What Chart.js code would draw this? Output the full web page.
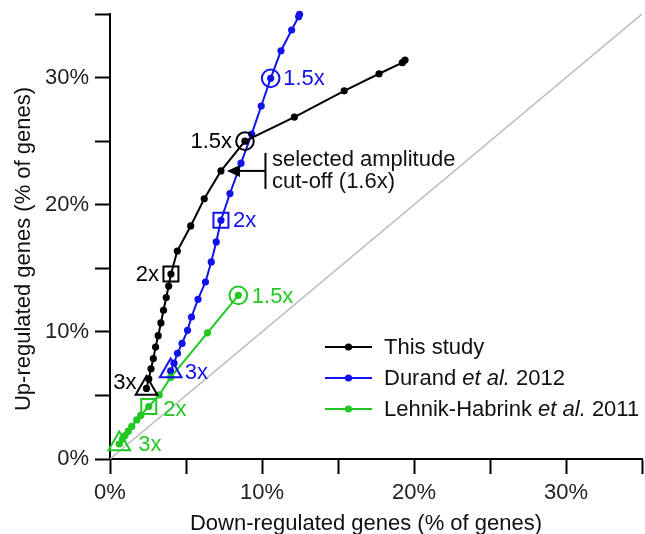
<!DOCTYPE html>
<html>
<head>
<meta charset="utf-8">
<script src="https://cdn.jsdelivr.net/npm/chart.js@4.4.1/dist/chart.umd.min.js"></script>
<style>
  html, body { margin: 0; padding: 0; background: #fff; }
  #wrap { width: 645px; height: 534px; }
</style>
</head>
<body>
<div id="wrap"><canvas id="c" width="645" height="534"></canvas></div>
<script>
// ---- data (percent of genes) ----
const xTickLabels = ['0%', '10%', '20%', '30%'];
const yTickLabels = ['0%', '10%', '20%', '30%'];

// This study: fold-change cut-offs 1.0 ... 3.0 (step 0.1)
const blackX = [19.41, 19.23, 17.70, 15.41, 12.13, 8.88, 7.30, 6.20, 5.31, 4.43, 4.01, 3.86, 3.70, 3.52, 3.35, 3.17, 3.00, 2.85, 2.70, 2.55, 2.40];
const blackY = [31.38, 31.17, 30.30, 28.96, 26.89, 25.00, 22.66, 20.47, 18.33, 16.36, 14.55, 13.60, 12.70, 11.70, 10.70, 9.70, 8.80, 7.90, 7.10, 6.30, 5.55];
// Durand et al. 2012: cut-offs 1.1 ... 3.0
const blueX = [12.47, 12.41, 11.95, 11.25, 10.57, 9.95, 9.32, 8.62, 7.89, 7.30, 6.99, 6.66, 6.28, 5.79, 5.36, 5.10, 4.74, 4.44, 4.21, 3.99];
const blueY = [34.98, 34.79, 33.74, 32.11, 29.94, 27.76, 25.55, 23.27, 20.88, 18.78, 17.07, 15.50, 13.92, 12.56, 11.17, 10.12, 9.09, 8.31, 7.54, 6.93];
// Lehnik-Habrink et al. 2011
const greenX = [8.44, 6.41, 3.99, 3.24, 2.55, 2.02, 1.76, 1.43, 1.20, 0.99, 0.82, 0.61];
const greenY = [12.87, 9.92, 6.42, 5.04, 4.13, 3.43, 3.07, 2.56, 2.19, 1.85, 1.57, 1.18];

// marked cut-offs: index into each series for 1.5x, 2x, 3x
const markerLabels = ['1.5x', '2x', '3x'];
const blackMarkIdx = [5, 10, 20];
const blueMarkIdx = [4, 9, 19];
const greenMarkIdx = [0, 4, 11];
const cutoffIdx = 6; // selected cut-off 1.6x (This study)

const seriesNames = ['This study', 'Durand et al. 2012', 'Lehnik-Habrink et al. 2011'];
const diagX = [0, 35];
const diagY = [0, 35];

// ---- helpers ----
const BLACK = '#000000', BLUE = 'rgb(18,18,235)', GREEN = 'rgb(34,200,34)', GREY = '#bdbdbd';
const FONT = '"Liberation Sans", Arial, Helvetica, sans-serif';
const pts = (xs, ys) => xs.map((x, i) => ({ x: x, y: ys[i] }));
const marks = (xs, ys, idx) => idx.map(i => ({ x: xs[i], y: ys[i] }));
const markerStyles = ['circle', 'rect', 'triangle'];
const markerRadii = [8.8, 10.6, 12.5];

function markerDataset(xs, ys, idx, color) {
  return {
    data: marks(xs, ys, idx), showLine: false, borderColor: color, backgroundColor: 'rgba(0,0,0,0)',
    pointStyle: markerStyles, pointRadius: markerRadii, pointBorderWidth: 2, pointBorderColor: color,
    pointBackgroundColor: 'rgba(0,0,0,0)', pointHoverRadius: markerRadii, clip: false
  };
}
function lineDataset(xs, ys, color) {
  return {
    data: pts(xs, ys), showLine: true, borderColor: color, borderWidth: 2, backgroundColor: color,
    pointRadius: 3.6, pointBorderWidth: 0, pointBackgroundColor: color, pointHoverRadius: 3.6, clip: 10
  };
}

// label placement around markers: [dx, dy, align]
const labelPlacement = {
  black: [[-13, 0, 'right'], [-12, 0, 'right'], [-10, -6, 'right']],
  blue: [[12.5, 0, 'left'], [12, 0, 'left'], [14, 1, 'left']],
  green: [[13.5, 1, 'left'], [14.5, 2, 'left'], [19, 0, 'left']]
};

const overlay = {
  id: 'overlay',
  afterDatasetsDraw(chart) {
    const ctx = chart.ctx, xs = chart.scales.x, ys = chart.scales.y;
    ctx.save();
    ctx.font = '22px ' + FONT;
    ctx.textBaseline = 'middle';
    const groups = [
      [blackX, blackY, blackMarkIdx, BLACK, labelPlacement.black],
      [blueX, blueY, blueMarkIdx, BLUE, labelPlacement.blue],
      [greenX, greenY, greenMarkIdx, GREEN, labelPlacement.green]
    ];
    groups.forEach(([X, Y, idx, col, pl]) => {
      idx.forEach((i, k) => {
        const px = xs.getPixelForValue(X[i]), py = ys.getPixelForValue(Y[i]);
        ctx.fillStyle = col;
        ctx.textAlign = pl[k][2];
        ctx.fillText(markerLabels[k], px + pl[k][0], py + pl[k][1] + 1);
      });
    });
    // cut-off annotation
    const cx = xs.getPixelForValue(blackX[cutoffIdx]), cy = ys.getPixelForValue(blackY[cutoffIdx]);
    ctx.strokeStyle = '#000'; ctx.fillStyle = '#000'; ctx.lineWidth = 2;
    ctx.beginPath(); ctx.moveTo(cx + 18, cy); ctx.lineTo(cx + 44.5, cy); ctx.stroke();
    ctx.beginPath(); ctx.moveTo(cx + 6, cy); ctx.lineTo(cx + 19, cy - 6); ctx.lineTo(cx + 19, cy + 6); ctx.closePath(); ctx.fill();
    ctx.beginPath(); ctx.moveTo(cx + 44.5, cy - 18); ctx.lineTo(cx + 44.5, cy + 18); ctx.stroke();
    ctx.textAlign = 'left';
    ctx.fillStyle = '#111';
    ctx.fillText('selected amplitude', cx + 51, cy - 11);
    ctx.fillText('cut-off (1.6x)', cx + 51, cy + 11);
    ctx.restore();
  },
  afterDraw(chart) {
    const ctx = chart.ctx;
    ctx.save();
    ctx.font = '22px ' + FONT;
    ctx.fillStyle = '#111';
    ctx.textBaseline = 'middle';
    ctx.textAlign = 'center';
    ctx.fillText('Down-regulated genes (% of genes)', 366, 524);
    ctx.translate(24, 249);
    ctx.rotate(-Math.PI / 2);
    ctx.fillText('Up-regulated genes (% of genes)', 0, 0);
    ctx.restore();
    // legend
    ctx.save();
    const cols = [BLACK, BLUE, GREEN];
    const rowsY = [347, 378, 409];
    const lx0 = 325, lx1 = 372, tx = 384;
    rowsY.forEach((ry, i) => {
      ctx.strokeStyle = cols[i]; ctx.lineWidth = 2;
      ctx.beginPath(); ctx.moveTo(lx0, ry); ctx.lineTo(lx1, ry); ctx.stroke();
      ctx.fillStyle = cols[i];
      ctx.beginPath(); ctx.arc((lx0 + lx1) / 2, ry, 3.6, 0, Math.PI * 2); ctx.fill();
      ctx.fillStyle = '#111';
      ctx.textBaseline = 'middle'; ctx.textAlign = 'left';
      const name = seriesNames[i];
      const parts = name.split('et al.');
      let x = tx;
      ctx.font = '22px ' + FONT;
      if (parts.length === 1) {
        ctx.fillText(name, x, ry + 1);
      } else {
        ctx.fillText(parts[0], x, ry + 1); x += ctx.measureText(parts[0]).width;
        ctx.font = 'italic 22px ' + FONT;
        ctx.fillText('et al.', x, ry + 1); x += ctx.measureText('et al.').width;
        ctx.font = '22px ' + FONT;
        ctx.fillText(parts[1], x, ry + 1);
      }
    });
    ctx.restore();
  }
};

const tickCb = (labels) => (v) => (v % 10 === 0 ? labels[v / 10] : '');
const zeroPad = (s) => { s.paddingTop = 0; s.paddingBottom = 0; s.paddingLeft = 0; s.paddingRight = 0; };
const axisCommon = {
  type: 'linear', min: 0, max: 35,
  grid: { drawOnChartArea: false, drawTicks: true, tickLength: 15, tickColor: '#000', tickWidth: 2 },
  border: { display: true, color: '#000', width: 2 },
  title: { display: false }
};

new Chart(document.getElementById('c'), {
  type: 'scatter',
  data: {
    datasets: [
      markerDataset(blackX, blackY, blackMarkIdx, BLACK),
      markerDataset(blueX, blueY, blueMarkIdx, BLUE),
      markerDataset(greenX, greenY, greenMarkIdx, GREEN),
      lineDataset(blackX, blackY, BLACK),
      lineDataset(greenX, greenY, GREEN),
      lineDataset(blueX, blueY, BLUE),
      { data: pts(diagX, diagY), showLine: true, borderColor: GREY, borderWidth: 1.5, pointRadius: 0, pointHoverRadius: 0 }
    ]
  },
  options: {
    responsive: false, animation: false, devicePixelRatio: 1,
    layout: { autoPadding: false, padding: { top: 14, right: 3, left: 0, bottom: 0 } },
    plugins: { legend: { display: false }, tooltip: { enabled: false } },
    scales: {
      x: Object.assign({}, axisCommon, {
        ticks: { stepSize: 5, autoSkip: false, maxRotation: 0, padding: 6, color: '#222', font: { family: FONT, size: 22 }, callback: tickCb(xTickLabels) },
        afterFit: (s) => { s.height = 75; zeroPad(s); }
      }),
      y: Object.assign({}, axisCommon, {
        ticks: { stepSize: 5, autoSkip: false, padding: 6, color: '#222', font: { family: FONT, size: 22 }, callback: tickCb(yTickLabels) },
        afterFit: (s) => { s.width = 110; zeroPad(s); }
      })
    }
  },
  plugins: [overlay]
});
</script>
</body>
</html>
